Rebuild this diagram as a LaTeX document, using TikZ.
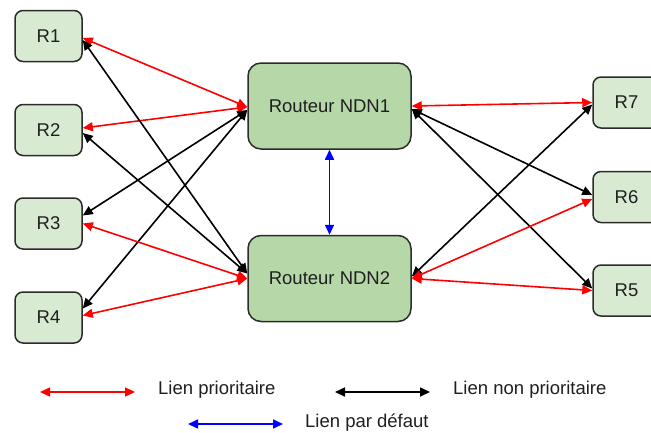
\documentclass[tikz,border=0pt]{standalone}
\usepackage{fontspec}
\setmainfont{Liberation Sans}
\usetikzlibrary{arrows.meta}
\definecolor{hotefill}{HTML}{D9EAD3}
\definecolor{routeurfill}{HTML}{B6D7A8}
\definecolor{bord}{HTML}{2B2B2B}
\definecolor{texte}{HTML}{1F1F1F}

\begin{document}
\begin{tikzpicture}[x=1pt,y=-1pt,
    hote/.style={draw=bord,line width=1.5pt,fill=hotefill,rounded corners=8pt,
      minimum width=67pt,minimum height=51pt,inner sep=0pt,text=texte,
      font=\fontsize{18.5}{20}\selectfont},
    routeur/.style={hote,fill=routeurfill,rounded corners=13pt,
      minimum width=163pt,minimum height=86pt},
    lien/.style={line width=1.6pt,{Triangle[length=10pt,width=9pt]}-{Triangle[length=10pt,width=9pt]}},
    prio/.style={lien,red},
    nonprio/.style={lien,black},
    defaut/.style={lien,blue},
    legende/.style={anchor=west,inner sep=0pt,text=texte,font=\fontsize{18.5}{20}\selectfont}]
    \useasboundingbox (0,0) rectangle (651,432);
    % hotes a gauche et a droite
    \node[hote] (R1) at (48.5,36) {R1};
    \node[hote] (R2) at (48.5,130) {R2};
    \node[hote] (R3) at (48.5,223.5) {R3};
    \node[hote] (R4) at (48.5,317.5) {R4};
    \node[hote] (R7) at (626.5,102.5) {R7};
    \node[hote] (R6) at (626.5,197) {R6};
    \node[hote] (R5) at (626.5,290.5) {R5};
    % routeurs
    \node[routeur] (N1) at (329.5,106) {Routeur NDN1};
    \node[routeur] (N2) at (329.5,278.5) {Routeur NDN2};
    % liens
    \foreach \a/\sa/\b/\sb/\s in {R1/-2/N1/-1/prio, R2/2/N1/-1/prio,
        R3/8/N1/-4/nonprio, R4/9/N1/-4/nonprio,
        R1/-4/N2/5/nonprio, R2/-3/N2/5/nonprio,
        R3/0/N2/0/prio, R4/2/N2/0/prio}
      {\draw[\s] ([yshift=\sa pt]\a.east) -- ([yshift=\sb pt]\b.west);}
    \foreach \a/\sa/\b/\sb/\s in {N1/0/R7/0/prio, N1/-3/R6/2/nonprio,
        N1/-3/R5/2/nonprio, N2/2/R7/-2/nonprio,
        N2/0/R6/-2/prio, N2/0/R5/0/prio}
      {\draw[\s] ([yshift=\sa pt]\a.east) -- ([yshift=\sb pt]\b.west);}
    \draw[defaut] (N1.south) -- (N2.north);
    % legende
    \coordinate (lpA) at (40,392);  \coordinate (lpB) at (135,392);
    \coordinate (lnA) at (335,392); \coordinate (lnB) at (430,392);
    \coordinate (ldA) at (188,424); \coordinate (ldB) at (283,424);
    \draw[prio] (lpA) -- (lpB);
    \draw[nonprio] (lnA) -- (lnB);
    \draw[defaut] (ldA) -- (ldB);
    \node[legende] (tp) at (158,390) {Lien prioritaire};
    \node[legende] (tn) at (453,390) {Lien non prioritaire};
    \node[legende] (td) at (305,423) {Lien par défaut};
\end{tikzpicture}
\end{document}
